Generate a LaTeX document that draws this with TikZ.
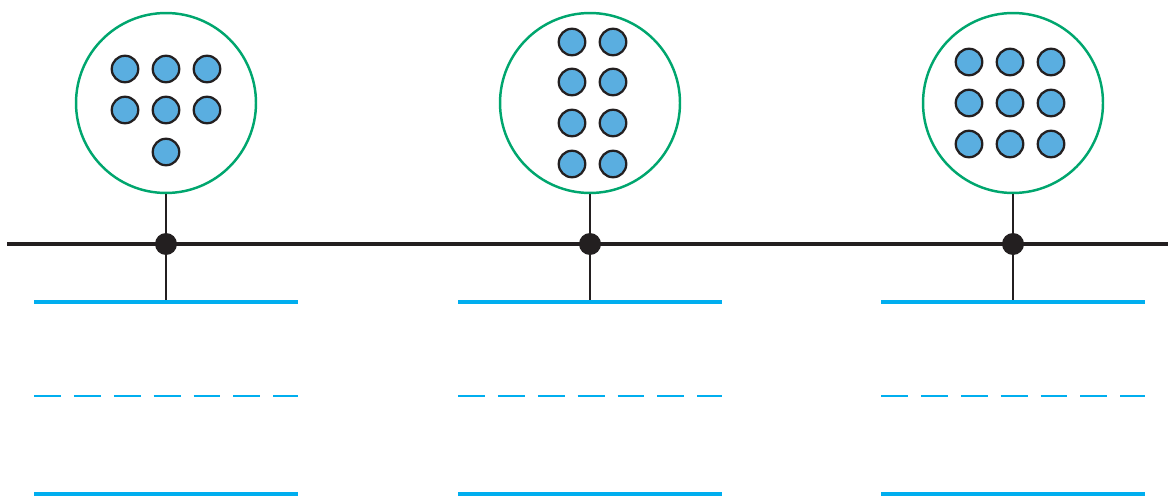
\documentclass[tikz,border=0pt]{standalone}
\usetikzlibrary{positioning}
\definecolor{ringgreen}{RGB}{0,166,110}
\definecolor{ballblue}{RGB}{90,174,224}
\definecolor{wireblue}{RGB}{0,174,239}
\definecolor{inkblack}{RGB}{35,31,32}

\begin{document}
\begin{tikzpicture}[
    x=0.02cm, y=-0.02cm,
    ring/.style={circle, draw=ringgreen, line width=1.4pt, minimum size=3.6cm, inner sep=0pt},
    ball/.style={circle, draw=inkblack, fill=ballblue, line width=1.3pt, minimum size=0.53cm, inner sep=0pt},
    junction/.style={circle, fill=inkblack, minimum size=0.44cm, inner sep=0pt},
    bus/.style={draw=inkblack, line width=2.8pt},
    stem/.style={draw=inkblack, line width=1.1pt},
    solidwire/.style={draw=wireblue, line width=2.3pt},
    dashwire/.style={draw=wireblue, line width=1.1pt, dash pattern=on 15.3pt off 7.4pt}
]
\useasboundingbox (0,0) rectangle (1168,503);

% bus end points
\coordinate (bus-l) at (7,244);
\coordinate (bus-r) at (1168,244);
\draw[bus] (bus-l) -- (bus-r);

% three stations
\foreach \nm/\cx in {a/166, b/590, c/1013} {
  \node[ring] (ring-\nm) at (\cx,103) {};
  \coordinate (tap-\nm) at (\cx,302);
  \coordinate (top-\nm-l) at (\cx-132,302);
  \coordinate (top-\nm-r) at (\cx+132,302);
  \coordinate (mid-\nm-l) at (\cx-132,396);
  \coordinate (mid-\nm-r) at (\cx+132,396);
  \coordinate (bot-\nm-l) at (\cx-132,494);
  \coordinate (bot-\nm-r) at (\cx+132,494);
  \draw[stem] (ring-\nm) -- (tap-\nm);
  \draw[solidwire] (top-\nm-l) -- (top-\nm-r);
  \draw[dashwire] (mid-\nm-l) -- (mid-\nm-r);
  \draw[solidwire] (bot-\nm-l) -- (bot-\nm-r);
  \node[junction] (hub-\nm) at (\cx,244) {};
}

% balls, left ring
\foreach \x [count=\i] in {125,166,207} {
  \node[ball] (a-\i-1) at (\x,69) {};
  \node[ball] (a-\i-2) at (\x,110) {};
}
\node[ball] (a-2-3) at (166,152) {};

% balls, middle ring
\foreach \y [count=\j] in {42,82,123,164} {
  \node[ball] (b-1-\j) at (572,\y) {};
  \node[ball] (b-2-\j) at (613,\y) {};
}

% balls, right ring
\foreach \x [count=\i] in {969,1010,1051}
  \foreach \y [count=\j] in {62,103,144}
    \node[ball] (c-\i-\j) at (\x,\y) {};
\end{tikzpicture}
\end{document}
